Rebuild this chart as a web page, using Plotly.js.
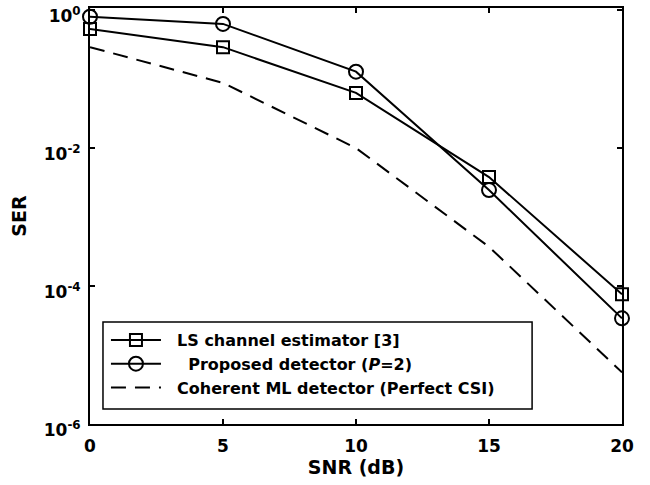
<!DOCTYPE html>
<html>
<head>
<meta charset="utf-8">
<script src="https://cdn.plot.ly/plotly-3.0.1.min.js"></script>
<style>
  html, body { margin: 0; padding: 0; background: #ffffff; }
  #chart { width: 650px; height: 485px; }
</style>
</head>
<body>
<div id="chart"></div>
<script>
// SNR values (dB)
const snr = [0, 5, 10, 15, 20];
// Series values (SER)
const serLS = [0.53, 0.29, 0.063, 3.8e-3, 7.6e-5];
const serProposed = [0.80, 0.63, 0.128, 2.46e-3, 3.4e-5];
const serCoherent = [0.29, 0.088, 0.010, 3.7e-4, 5.6e-6];
// Series names
const nameLS = '\u00a0\u00a0LS channel estimator [3]';
const nameProposed = '\u00a0\u00a0\u00a0\u00a0Proposed detector (<i>P</i>=2)';
const nameCoherent = '\u00a0\u00a0Coherent ML detector (Perfect CSI)';
// Tick labels
const xTickVals = [0, 5, 10, 15, 20];
const xTickText = ['0', '5', '10', '15', '20'];
const yTickVals = [1e-6, 1e-4, 1e-2, 1];
const yTickText = ['10<sup>-6</sup>', '10<sup>-4</sup>', '10<sup>-2</sup>', '10<sup>0</sup>'];

const FONT = 'DejaVu Sans, Verdana, sans-serif';

const traces = [
  {
    x: snr, y: serLS, name: nameLS, type: 'scatter', mode: 'lines+markers',
    line: {color: '#000', width: 2},
    marker: {symbol: 'square-open', size: 12, color: '#000', line: {color: '#000', width: 2}},
    cliponaxis: false
  },
  {
    x: snr, y: serProposed, name: nameProposed, type: 'scatter', mode: 'lines+markers',
    line: {color: '#000', width: 2},
    marker: {symbol: 'circle-open', size: 14, color: '#000', line: {color: '#000', width: 2}},
    cliponaxis: false
  },
  {
    x: snr, y: serCoherent, name: nameCoherent, type: 'scatter', mode: 'lines',
    line: {color: '#000', width: 2, dash: '15px,9px'},
    cliponaxis: false
  }
];

const layout = {
  width: 650, height: 485,
  margin: {l: 90, r: 28, t: 8, b: 61, pad: 0},
  paper_bgcolor: '#fff', plot_bgcolor: '#fff',
  font: {family: FONT, color: '#000', size: 16, weight: 'bold'},
  showlegend: true,
  xaxis: {
    range: [0, 20], tickvals: xTickVals, ticktext: xTickText,
    showline: true, linecolor: '#000', linewidth: 2, mirror: 'ticks',
    ticks: 'inside', ticklen: 5, tickwidth: 2, tickcolor: '#000',
    showgrid: false, zeroline: false, ticklabelstandoff: 6,
    tickfont: {family: FONT, size: 17, weight: 'bold', color: '#000'},
    title: {text: 'SNR (dB)', font: {family: FONT, size: 19, weight: 'bold', color: '#000'}, standoff: 3}
  },
  yaxis: {
    type: 'log', range: [-6, 0.03], tickvals: yTickVals, ticktext: yTickText,
    showline: true, linecolor: '#000', linewidth: 2, mirror: 'ticks',
    ticks: 'inside', ticklen: 5, tickwidth: 2, tickcolor: '#000',
    showgrid: false, zeroline: false,
    ticklabeloverflow: 'allow', ticklabelshift: 6, ticklabelstandoff: 4,
    tickfont: {family: FONT, size: 17, weight: 'bold', color: '#000'},
    title: {text: 'SER', font: {family: FONT, size: 19, weight: 'bold', color: '#000'}, standoff: 12}
  },
  legend: {
    x: 0.03, y: 0.2428, xanchor: 'left', yanchor: 'top',
    bgcolor: 'rgba(0,0,0,0)', borderwidth: 0,
    font: {family: FONT, size: 16, weight: 'bold', color: '#000'},
    itemwidth: 50
  },
  shapes: [
    {type: 'rect', xref: 'paper', yref: 'paper', x0: 0.0244, x1: 0.831, y0: 0.036, y1: 0.245,
     line: {color: '#000', width: 1.5}, fillcolor: 'rgba(0,0,0,0)', layer: 'above'}
  ]
};

Plotly.newPlot('chart', traces, layout, {displayModeBar: false, staticPlot: true});
</script>
</body>
</html>
